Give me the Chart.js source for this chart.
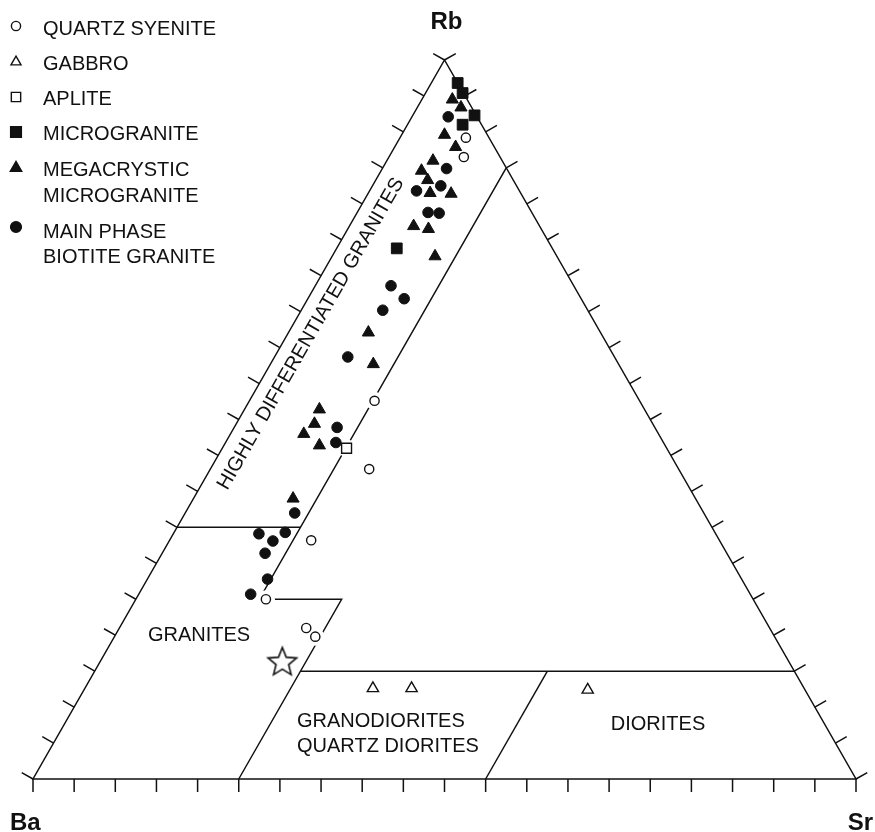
<!DOCTYPE html>
<html>
<head>
<meta charset="utf-8">
<title>Rb–Ba–Sr ternary diagram</title>
<script src="https://cdn.jsdelivr.net/npm/chart.js@4.4.1/dist/chart.umd.min.js"></script>
<style>
  html, body { margin: 0; padding: 0; background: #ffffff; }
  canvas { display: block; }
</style>
</head>
<body>
<canvas id="ternary" width="875" height="832"></canvas>
<script>
// Sample compositions, each as [Rb, Ba, Sr] in percent of Rb + Ba + Sr
const quartzSyenite = [
  [89.2, 2.8, 8.0], [86.5, 4.4, 9.1], [52.6, 32.2, 15.2], [43.1, 37.6, 19.3],
  [33.2, 49.6, 17.2], [25.0, 59.2, 15.8], [21.0, 56.3, 22.7], [19.8, 55.8, 24.4]
];
const gabbro = [
  [12.6, 52.4, 35.0], [12.6, 47.7, 39.7], [12.4, 26.4, 61.2]
];
const aplite = [
  [46.0, 38.9, 15.1]
];
const microgranite = [
  [96.8, 0.0, 3.2], [95.4, 0.1, 4.5], [92.3, 0.2, 7.5], [91.0, 2.3, 6.7], [73.8, 18.9, 7.3]
];
const megacrysticMicrogranite = [
  [94.5, 1.8, 3.7], [93.4, 1.3, 5.3], [89.6, 5.2, 5.2], [87.9, 4.7, 7.4],
  [86.0, 8.4, 5.6], [84.6, 10.5, 4.9], [83.3, 10.4, 6.3], [81.5, 11.0, 7.5],
  [81.4, 8.5, 10.1], [76.9, 15.3, 7.8], [76.5, 13.7, 9.8], [72.7, 14.8, 12.5],
  [62.1, 28.2, 9.7], [57.7, 29.8, 12.5], [51.4, 39.5, 9.1], [49.4, 41.1, 9.5],
  [48.0, 43.1, 8.9], [46.4, 42.0, 11.6], [39.0, 48.9, 12.1]
];
const mainPhaseBiotiteGranite = [
  [92.1, 3.5, 4.4], [84.9, 7.3, 7.8], [82.5, 9.2, 8.3], [81.8, 12.5, 5.7],
  [78.8, 12.6, 8.6], [78.7, 11.3, 10.0], [68.6, 22.2, 9.2], [66.8, 21.5, 11.7],
  [65.2, 24.9, 9.9], [58.7, 32.4, 8.9], [48.9, 38.6, 12.5], [46.8, 39.8, 13.4],
  [37.0, 49.7, 13.3], [34.1, 55.5, 10.4], [34.3, 52.2, 13.5], [33.1, 54.3, 12.6],
  [31.4, 56.1, 12.5], [27.8, 57.6, 14.6], [25.7, 60.7, 13.6]
];
const starSample = [
  [16.2, 61.6, 22.2]
];

// Field boundaries as polylines of [Rb, Sr] pairs (Ba makes up the rest)
const fieldBoundaries = [
  [[35, 0], [35, 15]],
  [[85, 15], [25, 15], [25, 25], [0, 25]],
  [[15, 25], [15, 85]],
  [[15, 55], [0, 55]]
];

const tickStep = 5;
const vertexLabels = ['Rb', 'Ba', 'Sr'];
const legendLabels = [
  ['QUARTZ SYENITE'],
  ['GABBRO'],
  ['APLITE'],
  ['MICROGRANITE'],
  ['MEGACRYSTIC', 'MICROGRANITE'],
  ['MAIN PHASE', 'BIOTITE GRANITE']
];
const fieldNames = {
  hdg: 'HIGHLY DIFFERENTIATED GRANITES',
  granites: 'GRANITES',
  granodiorites: ['GRANODIORITES', 'QUARTZ DIORITES'],
  diorites: 'DIORITES'
};

const INK = '#111111';
const FONT = '"Liberation Sans", Arial, Helvetica, sans-serif';

// Ternary [Rb, Sr] -> cartesian value space (0..100 on both axes)
function toXY(rb, sr) {
  return { x: sr + rb / 2, y: rb };
}
function fromTriple(list) {
  return list.map(([rb, ba, sr]) => toXY(rb, sr));
}

// Outlined five-pointed star used as a point style
function makeStar(R, r, lw) {
  const size = 2 * Math.ceil(R + lw + 1);
  const c = document.createElement('canvas');
  c.width = size; c.height = size;
  const g = c.getContext('2d');
  const cx = size / 2, cy = size / 2;
  g.beginPath();
  for (let k = 0; k < 10; k++) {
    const rad = k % 2 ? r : R;
    const a = -Math.PI / 2 + k * Math.PI / 5;
    g.lineTo(cx + rad * Math.cos(a), cy + rad * Math.sin(a));
  }
  g.closePath();
  g.fillStyle = '#ffffff';
  g.fill();
  g.lineWidth = lw;
  g.lineJoin = 'miter';
  g.strokeStyle = INK;
  g.stroke();
  return c;
}

// Marker drawing for the key, same geometry as Chart.js point styles
function drawMarker(ctx, style, radius, x, y, filled) {
  ctx.beginPath();
  if (style === 'circle') {
    ctx.arc(x, y, radius, 0, Math.PI * 2);
  } else if (style === 'triangle') {
    let rad = 0;
    for (let k = 0; k < 3; k++) {
      const px = x + Math.sin(rad) * radius, py = y - Math.cos(rad) * radius;
      if (k === 0) ctx.moveTo(px, py); else ctx.lineTo(px, py);
      rad += 2 * Math.PI / 3;
    }
  } else if (style === 'rect') {
    const s = Math.SQRT1_2 * radius;
    ctx.rect(x - s, y - s, 2 * s, 2 * s);
  }
  ctx.closePath();
  ctx.fillStyle = filled ? INK : '#ffffff';
  ctx.fill();
  ctx.lineWidth = 1.4;
  ctx.strokeStyle = INK;
  ctx.stroke();
}

const legendMarkers = [
  { style: 'circle', radius: 4.6, filled: false },
  { style: 'triangle', radius: 5.8, filled: false },
  { style: 'rect', radius: 6.6, filled: false },
  { style: 'rect', radius: 7.6, filled: true },
  { style: 'triangle', radius: 6.6, filled: true },
  { style: 'circle', radius: 5.4, filled: true }
];

const ternaryFrame = {
  id: 'ternaryFrame',
  beforeDatasetsDraw(chart) {
    const { ctx, scales: { x: xs, y: ys } } = chart;
    const P = (rb, sr) => {
      const v = toXY(rb, sr);
      return [xs.getPixelForValue(v.x), ys.getPixelForValue(v.y)];
    };
    const ba = P(0, 0), sr = P(0, 100), rb = P(100, 0);
    const cen = [(ba[0] + sr[0] + rb[0]) / 3, (ba[1] + sr[1] + rb[1]) / 3];

    ctx.save();
    ctx.strokeStyle = INK;
    ctx.lineWidth = 1.5;
    ctx.lineCap = 'butt';
    ctx.lineJoin = 'miter';

    // outline
    ctx.beginPath();
    ctx.moveTo(ba[0], ba[1]);
    ctx.lineTo(sr[0], sr[1]);
    ctx.lineTo(rb[0], rb[1]);
    ctx.closePath();
    ctx.stroke();

    // ticks, perpendicular and pointing outwards
    const sides = [[ba, sr], [sr, rb], [rb, ba]];
    const n = 100 / tickStep;
    ctx.beginPath();
    sides.forEach(([a, b]) => {
      const dx = b[0] - a[0], dy = b[1] - a[1];
      const len = Math.hypot(dx, dy);
      let nx = -dy / len, ny = dx / len;
      const mx = (a[0] + b[0]) / 2 - cen[0], my = (a[1] + b[1]) / 2 - cen[1];
      if (nx * mx + ny * my < 0) { nx = -nx; ny = -ny; }
      const L = 13;
      for (let i = 0; i <= n; i++) {
        const px = a[0] + dx * i / n, py = a[1] + dy * i / n;
        ctx.moveTo(px, py);
        ctx.lineTo(px + nx * L, py + ny * L);
      }
    });
    ctx.stroke();

    // field boundaries
    fieldBoundaries.forEach(line => {
      ctx.beginPath();
      line.forEach(([r, s], i) => {
        const p = P(r, s);
        if (i === 0) ctx.moveTo(p[0], p[1]); else ctx.lineTo(p[0], p[1]);
      });
      ctx.stroke();
    });
    ctx.restore();
  },
  afterDraw(chart) {
    const { ctx, scales: { x: xs, y: ys } } = chart;
    const P = (rb, sr) => {
      const v = toXY(rb, sr);
      return [xs.getPixelForValue(v.x), ys.getPixelForValue(v.y)];
    };
    const ba = P(0, 0), sr = P(0, 100), rb = P(100, 0);

    ctx.save();
    ctx.fillStyle = INK;

    // corner labels
    ctx.font = 'bold 24px ' + FONT;
    ctx.textBaseline = 'alphabetic';
    ctx.textAlign = 'center';
    ctx.fillText(vertexLabels[0], rb[0] + 2, rb[1] - 31);
    ctx.textAlign = 'left';
    ctx.fillText(vertexLabels[1], ba[0] - 23, ba[1] + 51);
    ctx.textAlign = 'right';
    ctx.fillText(vertexLabels[2], sr[0] + 17, sr[1] + 51);

    // field names
    ctx.font = '20px ' + FONT;
    ctx.textAlign = 'center';
    ctx.textBaseline = 'middle';
    {
      const e = P(63.3, 0);
      const dx = rb[0] - ba[0], dy = rb[1] - ba[1];
      const len = Math.hypot(dx, dy);
      const ux = dx / len, uy = dy / len;
      const nx = -uy, ny = ux; // inward normal for this edge
      ctx.save();
      ctx.translate(e[0] + nx * 20, e[1] + ny * 20);
      ctx.rotate(Math.atan2(uy, ux));
      ctx.fillText(fieldNames.hdg, 0, 0);
      ctx.restore();
    }
    ctx.textBaseline = 'alphabetic';
    ctx.fillText(fieldNames.granites, 199, 641);
    ctx.fillText(fieldNames.diorites, 658, 730);
    ctx.textAlign = 'left';
    ctx.fillText(fieldNames.granodiorites[0], 297, 727);
    ctx.fillText(fieldNames.granodiorites[1], 297, 752);

    // key
    const rowBaselines = [[35], [70], [105], [140], [176, 202], [238, 263]];
    const markerY = [26, 62, 97, 132, 168, 227];
    legendLabels.forEach((lines, i) => {
      const m = legendMarkers[i];
      drawMarker(ctx, m.style, m.radius, 16, markerY[i], m.filled);
      ctx.fillStyle = INK;
      ctx.textAlign = 'left';
      ctx.textBaseline = 'alphabetic';
      lines.forEach((t, j) => ctx.fillText(t, 43, rowBaselines[i][j]));
    });
    ctx.restore();
  }
};

const openStyle = { backgroundColor: '#ffffff', borderColor: INK, borderWidth: 1.4 };
const solidStyle = { backgroundColor: INK, borderColor: INK, borderWidth: 1 };

const chart = new Chart(document.getElementById('ternary'), {
  type: 'scatter',
  data: {
    datasets: [
      {
        label: 'gap',
        data: fromTriple(quartzSyenite.concat(aplite)),
        pointStyle: 'circle', pointRadius: 9,
        backgroundColor: '#ffffff', borderColor: '#ffffff', borderWidth: 0,
        order: 10, clip: false
      },
      { label: 'Quartz syenite', data: fromTriple(quartzSyenite), pointStyle: 'circle', pointRadius: 4.6, ...openStyle, order: 1, clip: false },
      { label: 'Gabbro', data: fromTriple(gabbro), pointStyle: 'triangle', pointRadius: 6.5, ...openStyle, order: 1, clip: false },
      { label: 'Aplite', data: fromTriple(aplite), pointStyle: 'rect', pointRadius: 7, ...openStyle, order: 1, clip: false },
      { label: 'Microgranite', data: fromTriple(microgranite), pointStyle: 'rect', pointRadius: 7.6, ...solidStyle, order: 1, clip: false },
      { label: 'Megacrystic microgranite', data: fromTriple(megacrysticMicrogranite), pointStyle: 'triangle', pointRadius: 7, ...solidStyle, order: 1, clip: false },
      { label: 'Main phase biotite granite', data: fromTriple(mainPhaseBiotiteGranite), pointStyle: 'circle', pointRadius: 5.3, ...solidStyle, order: 1, clip: false },
      { label: 'Star', data: fromTriple(starSample), pointStyle: makeStar(15, 6.6, 1.6), pointRadius: 15, order: 1, clip: false }
    ]
  },
  options: {
    responsive: false,
    animation: false,
    devicePixelRatio: 1,
    events: [],
    layout: { padding: { left: 33, right: 19, top: 60, bottom: 53 } },
    plugins: { legend: { display: false }, tooltip: { enabled: false } },
    scales: {
      x: { type: 'linear', min: 0, max: 100, display: false },
      y: { type: 'linear', min: 0, max: 100, display: false }
    }
  },
  plugins: [ternaryFrame]
});
</script>
</body>
</html>
